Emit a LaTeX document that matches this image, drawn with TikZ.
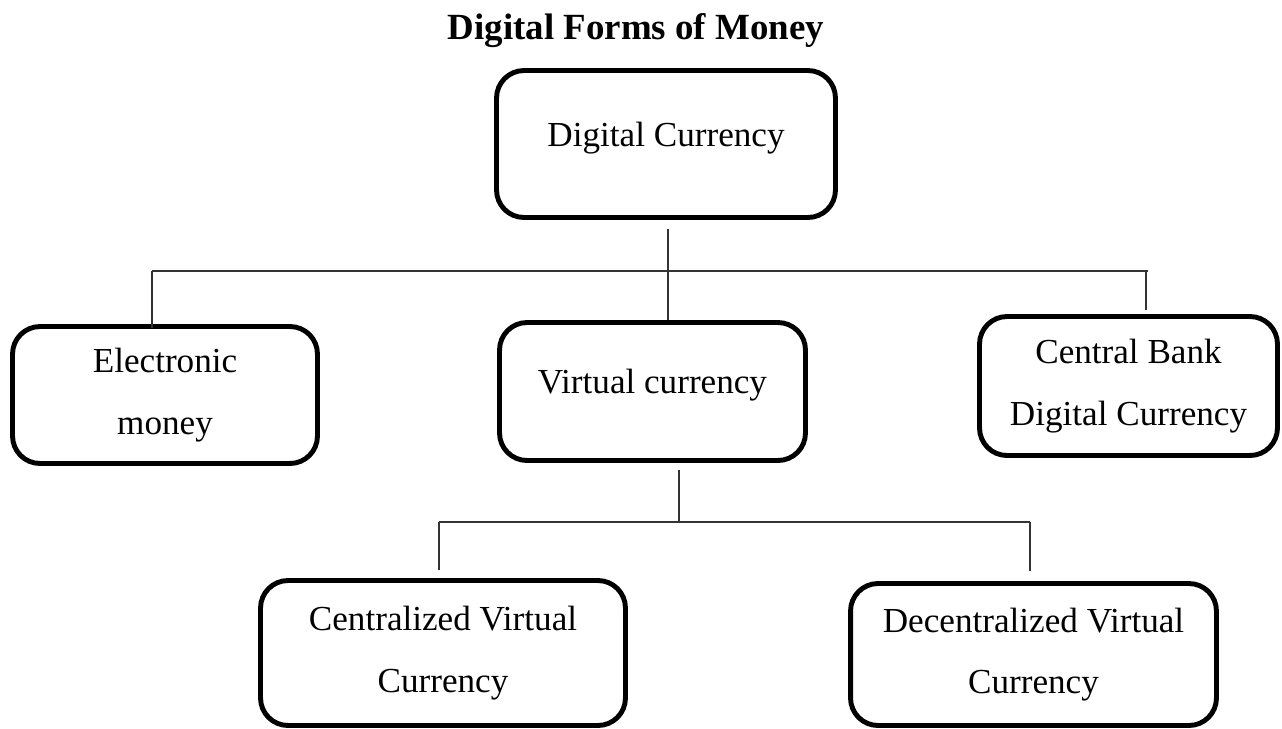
\documentclass[tikz,border=0pt]{standalone}
\usepackage{fontspec}
\setmainfont{Liberation Serif}
\begin{document}
\begin{tikzpicture}[x=0.02cm,y=-0.02cm,
  box/.style={draw=black, line width=2.8pt, rounded corners=0.55cm, align=center,
    inner sep=0pt, font=\fontsize{20}{35}\selectfont},
  raised/.style={text depth=0.4cm},
  conn/.style={draw=black!80, line width=1.1pt},
  ttl/.style={font=\bfseries\fontsize{21}{25}\selectfont}]
\useasboundingbox (0,0) rectangle (1282,728);
\node[ttl] (title) at (636,31) {Digital Forms of Money};
\node[box, raised, minimum width=6.78cm, minimum height=2.94cm] (dc) at (666,144) {Digital Currency};
\node[box, minimum width=6.1cm, minimum height=2.74cm] (em) at (165,395) {Electronic\\money};
\node[box, raised, minimum width=6.12cm, minimum height=2.76cm] (vc) at (652.5,391.5) {Virtual currency};
\node[box, minimum width=5.96cm, minimum height=2.78cm] (cb) at (1128.5,386) {Central Bank\\Digital Currency};
\node[box, minimum width=7.3cm, minimum height=2.9cm] (cvc) at (443,653) {Centralized Virtual\\Currency};
\node[box, minimum width=7.32cm, minimum height=2.84cm] (dvc) at (1033.5,654.5) {Decentralized Virtual\\Currency};
% junctions
\coordinate (j1) at (668,271);
\coordinate (hl) at (152,271);
\coordinate (hr) at (1148,271);
\coordinate (hrd) at (1146,271);
\coordinate (j2) at (679,522);
\coordinate (h2l) at (439,522);
\coordinate (h2r) at (1030,522);
% first level
\draw[conn, shorten <=0.18cm] (dc.south -| j1) -- ([yshift=-0.12cm]j1);
\draw[conn] (hl) -- (hr);
\draw[conn] (hl) -- ([yshift=-0.08cm]em.north -| hl);
\draw[conn] (j1) -- (vc.north -| j1);
\draw[conn] (hrd) -- ([yshift=0.08cm]cb.north -| hrd);
% second level
\draw[conn, shorten <=0.14cm] (vc.south -| j2) -- (j2);
\draw[conn] (h2l) -- (h2r);
\draw[conn] (h2l) -- ([yshift=0.16cm]cvc.north -| h2l);
\draw[conn] (h2r) -- ([yshift=0.2cm]dvc.north -| h2r);
\end{tikzpicture}
\end{document}
